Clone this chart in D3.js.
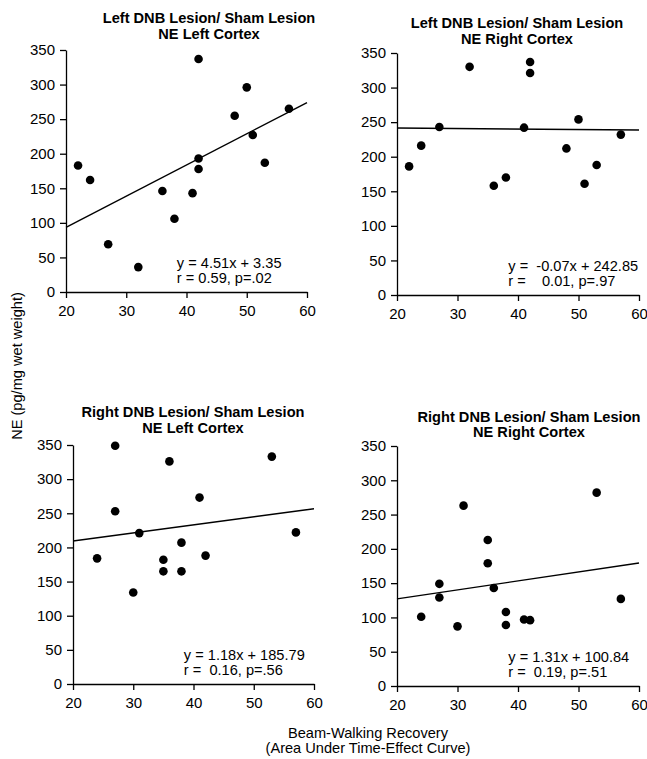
<!DOCTYPE html>
<html>
<head>
<meta charset="utf-8">
<script src="https://cdnjs.cloudflare.com/ajax/libs/d3/7.8.5/d3.min.js"></script>
<style>
  body { margin: 0; background: #fff; }
  text { font-family: "Liberation Sans", Arial, Helvetica, sans-serif; fill: #000; }
</style>
</head>
<body>
<svg id="my_chart" width="647" height="759"></svg>
<script>
// values
var titles = ["Left DNB Lesion/ Sham Lesion", "Left DNB Lesion/ Sham Lesion",
              "Right DNB Lesion/ Sham Lesion", "Right DNB Lesion/ Sham Lesion"]
var subtitles = ["NE Left Cortex", "NE Right Cortex", "NE Left Cortex", "NE Right Cortex"]

// Left DNB lesion, NE left cortex
var x_leftLeft  = [22, 24, 27, 32, 36, 38, 41, 42, 42, 42, 48, 50, 51, 53, 57]
var y_leftLeft  = [183, 162, 69, 36, 146, 106, 143, 337, 193, 178, 255, 296, 227, 187, 265]
// Left DNB lesion, NE right cortex
var x_leftRight = [22, 24, 27, 32, 36, 38, 41, 42, 42, 48, 50, 51, 53, 57]
var y_leftRight = [186, 216, 243, 330, 158, 170, 242, 337, 321, 212, 254, 161, 188, 232]
// Right DNB lesion, NE left cortex
var x_rightLeft = [24, 27, 27, 30, 31, 35, 35, 36, 38, 38, 41, 42, 53, 57]
var y_rightLeft = [184, 349, 253, 134, 221, 182, 165, 326, 207, 165, 273, 188, 333, 222]
// Right DNB lesion, NE right cortex
var x_rightRight = [24, 27, 27, 30, 31, 35, 35, 36, 38, 38, 41, 42, 53, 57]
var y_rightRight = [101, 149, 129, 87, 263, 213, 179, 143, 108, 89, 97, 96, 282, 127]

// regression lines y = a*x + b
var slopes     = [4.51, -0.07, 1.18, 1.31]
var intercepts = [3.35, 242.85, 185.79, 100.84]
var eqLabels   = ["y = 4.51x + 3.35", "y =  -0.07x + 242.85", "y = 1.18x + 185.79", "y = 1.31x + 100.84"]
var statLabels = ["r = 0.59, p=.02", "r =    0.01, p=.97", "r =  0.16, p=.56", "r =  0.19, p=.51"]

var xTicks = [20, 30, 40, 50, 60]
var yTicks = [0, 50, 100, 150, 200, 250, 300, 350]
var xDomain = [20, 60]
var yDomain = [0, 350]

var xs = [x_leftLeft, x_leftRight, x_rightLeft, x_rightRight]
var ys = [y_leftLeft, y_leftRight, y_rightLeft, y_rightRight]

// panel placement (pixels)
var panels = [
  {left: 66,  top: 50,  w: 241, h: 242, titleX: 209, t1: -27, t2: -11},
  {left: 397, top: 53,  w: 242, h: 242, titleX: 517, t1: -25, t2: -9},
  {left: 73,  top: 445, w: 241, h: 239, titleX: 193, t1: -28, t2: -12},
  {left: 397, top: 446, w: 242, h: 240, titleX: 529, t1: -24, t2: -9}
]

var svg = d3.select("#my_chart")

panels.forEach(function(p, i) {
  var x = d3.scaleLinear().domain(xDomain).range([0, p.w])
  var y = d3.scaleLinear().domain(yDomain).range([p.h, 0])

  var g = svg.append("g").attr("transform", "translate(" + p.left + "," + p.top + ")")

  // titles
  g.append("text")
    .attr("x", p.titleX - p.left).attr("y", p.t1)
    .attr("text-anchor", "middle")
    .attr("font-size", 14.6).attr("font-weight", "bold")
    .text(titles[i])
  g.append("text")
    .attr("x", p.titleX - p.left).attr("y", p.t2)
    .attr("text-anchor", "middle")
    .attr("font-size", 14.6).attr("font-weight", "bold")
    .text(subtitles[i])

  // axes
  var yAxis = g.append("g")
    .call(d3.axisLeft(y).tickValues(yTicks).tickSize(6).tickSizeOuter(0).tickPadding(5))
  var xAxis = g.append("g")
    .attr("transform", "translate(0," + p.h + ")")
    .call(d3.axisBottom(x).tickValues(xTicks).tickSize(6).tickSizeOuter(0).tickPadding(7))
  ;[xAxis, yAxis].forEach(function(a) {
    a.attr("font-family", null).attr("font-size", 15)
    a.selectAll("path, line").attr("stroke", "#000").attr("stroke-width", 1.3)
  })

  // regression line
  g.append("line")
    .attr("x1", x(xDomain[0])).attr("y1", y(slopes[i] * xDomain[0] + intercepts[i]))
    .attr("x2", x(xDomain[1])).attr("y2", y(slopes[i] * xDomain[1] + intercepts[i]))
    .attr("stroke", "#000").attr("stroke-width", 1.4)

  // points
  g.selectAll("circle")
    .data(d3.zip(xs[i], ys[i]))
    .enter()
    .append("circle")
      .attr("cx", function(d) { return x(d[0]) })
      .attr("cy", function(d) { return y(d[1]) })
      .attr("r", 4.3)
      .attr("fill", "#000")

  // equation + stats
  g.append("text")
    .attr("x", x(38.4)).attr("y", p.h - 24)
    .attr("font-size", 14.6).style("white-space", "pre")
    .text(eqLabels[i])
  g.append("text")
    .attr("x", x(38.4)).attr("y", p.h - 9)
    .attr("font-size", 14.6).style("white-space", "pre")
    .text(statLabels[i])
})

// shared axis titles
svg.append("text")
  .attr("transform", "translate(22,366) rotate(-90)")
  .attr("text-anchor", "middle")
  .attr("font-size", 14.6)
  .text("NE (pg/mg wet weight)")

svg.append("text")
  .attr("x", 368).attr("y", 738)
  .attr("text-anchor", "middle")
  .attr("font-size", 14.6)
  .text("Beam-Walking Recovery")
svg.append("text")
  .attr("x", 368).attr("y", 753)
  .attr("text-anchor", "middle")
  .attr("font-size", 14.6)
  .text("(Area Under Time-Effect Curve)")
</script>
</body>
</html>
